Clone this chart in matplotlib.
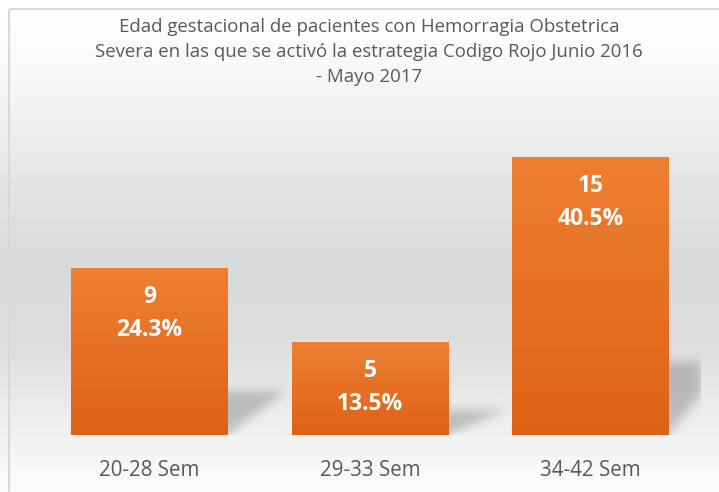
import numpy as np
import matplotlib.pyplot as plt
from matplotlib.colors import LinearSegmentedColormap
from matplotlib.patches import Rectangle

categories = ["20-28 Sem", "29-33 Sem", "34-42 Sem"]
counts = [9, 5, 15]
percents = ["24.3%", "13.5%", "40.5%"]
title = ("Edad gestacional de pacientes con Hemorragia Obstetrica\n"
         "Severa en las que se activó la estrategia Codigo Rojo Junio 2016\n"
         "- Mayo 2017")

W, H = 719, 492
fig = plt.figure(figsize=(W / 100, H / 100), dpi=100)

# background gradient (white -> grey -> white)
bg = fig.add_axes([0, 0, 1, 1], zorder=-2)
ys = np.array([0, 8, 100, 180, 270, 350, 420, 470, 492])
vs = np.array([255, 255, 244, 228, 217, 222, 238, 248, 251]) / 255
col = np.interp(np.arange(H), ys, vs)
img = np.repeat(col[:, None], W, axis=1)
bg.imshow(img, cmap="gray", vmin=0, vmax=1, aspect="auto", extent=[0, W, H, 0])
bg.add_patch(Rectangle((8.5, 8.5), W + 10, H + 10, fill=False, ec="#d9d9d9", lw=1.5))
bg.set_xlim(0, W)
bg.set_ylim(H, 0)
bg.axis("off")

# main axes
ax = fig.add_axes([39.25 / W, 57 / H, 661.5 / W, 296.5 / H])
ax.patch.set_alpha(0)
for s in ax.spines.values():
    s.set_visible(False)
ax.set_yticks([])
x = np.arange(len(categories))
width = 0.712
xlim, ylim = (-0.5, 2.5), (0, 16)

# soft perspective shadows: parallelogram masks blurred with a gaussian
gx = np.linspace(xlim[0], xlim[1], 662)
gy = np.linspace(ylim[0], ylim[1], 297)
X, Y = np.meshgrid(gx, gy)
mask = np.zeros_like(X)
for i, v in enumerate(counts):
    l, r = i - width / 2, i + width / 2
    hs = v * 0.26
    dx = 0.26 * (Y / hs)
    inside = (Y >= 0) & (Y <= hs) & (X >= l + dx) & (X <= r + dx)
    mask[inside] = 1.0
sig = 5.0
k = np.exp(-0.5 * (np.arange(-15, 16) / sig) ** 2)
k /= k.sum()
mask = np.apply_along_axis(lambda c: np.convolve(c, k, mode="same"), 0, mask)
mask = np.apply_along_axis(lambda c: np.convolve(c, k, mode="same"), 1, mask)
shadow = np.zeros(mask.shape + (4,))
shadow[..., :3] = 0.35
shadow[..., 3] = mask * 0.33
ax.imshow(shadow, origin="lower", aspect="auto",
          extent=[xlim[0], xlim[1], ylim[0], ylim[1]], zorder=1)

bars = ax.bar(x, counts, width=width, color="none", zorder=2)
grad = LinearSegmentedColormap.from_list("og", ["#dd6216", "#ee7f33"])
for b in bars:
    bx = b.get_x()
    im = ax.imshow(np.linspace(0, 1, 100)[:, None], cmap=grad, aspect="auto",
                   origin="lower", extent=[bx, bx + b.get_width(), 0, b.get_height()],
                   zorder=3)
    im.set_clip_path(b)
ax.set_xlim(*xlim)
ax.set_ylim(*ylim)

for i, v in enumerate(counts):
    ax.annotate(str(v), (i, v), xytext=(0, -29 * 0.72), textcoords="offset points",
                ha="center", va="center", color="white", fontsize=16.5,
                fontweight="bold", family="Open Sans", zorder=5)
    ax.annotate(percents[i], (i, v), xytext=(0, -62 * 0.72), textcoords="offset points",
                ha="center", va="center", color="white", fontsize=16.5,
                fontweight="bold", family="Open Sans", zorder=5)

ax.set_xticks(x)
ax.set_xticklabels(categories, fontsize=14.8, color="#595959", family="Open Sans")
ax.tick_params(axis="x", length=0, pad=18)

fig.text(369 / W, 1 - 52 / H, title, ha="center", va="center", fontsize=13.4,
         color="#595959", family="Open Sans", linespacing=1.5)

fig.savefig("out.png", dpi=100)
